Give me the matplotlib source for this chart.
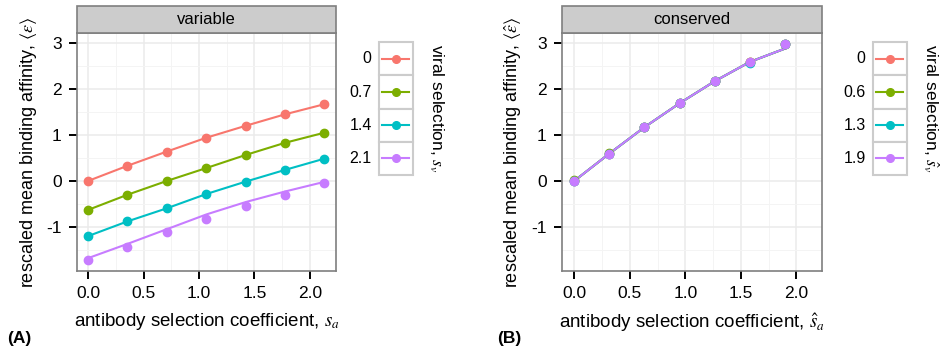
#!/usr/bin/env python3
# -*- coding: utf-8 -*-

import numpy as np
import matplotlib
matplotlib.use("Agg")
import matplotlib.pyplot as plt
from matplotlib.patches import Rectangle
from matplotlib.ticker import MultipleLocator

plt.rcParams["font.family"] = ["Liberation Sans", "DejaVu Sans"]
plt.rcParams["mathtext.fontset"] = "stix"

# ========== 数据 ==========
# (A) variable
sa_var = [0.0, 0.355, 0.71, 1.065, 1.42, 1.775, 2.13]
sv_var_labels = ["0", "0.7", "1.4", "2.1"]
eps_var_pts = [
    [0.00, 0.33, 0.64, 0.94, 1.20, 1.45, 1.67],
    [-0.63, -0.30, 0.00, 0.28, 0.565, 0.83, 1.05],
    [-1.20, -0.88, -0.595, -0.285, -0.015, 0.24, 0.485],
    [-1.72, -1.43, -1.115, -0.82, -0.545, -0.295, -0.055],
]
eps_var_line = [
    [0.00, 0.33, 0.64, 0.94, 1.20, 1.45, 1.67],
    [-0.63, -0.30, 0.00, 0.28, 0.565, 0.83, 1.05],
    [-1.20, -0.88, -0.595, -0.285, -0.015, 0.24, 0.485],
    [-1.68, -1.37, -1.05, -0.73, -0.46, -0.23, -0.02],
]

# (B) conserved
sa_con = [0.0, 0.316, 0.632, 0.948, 1.264, 1.58, 1.896]
sv_con_labels = ["0", "0.6", "1.3", "1.9"]
eps_con_pts = [
    [0.00, 0.595, 1.17, 1.69, 2.17, 2.59, 2.97],
    [0.01, 0.60, 1.175, 1.695, 2.175, 2.595, 2.975],
    [0.00, 0.59, 1.17, 1.69, 2.165, 2.575, 2.985],
    [-0.01, 0.595, 1.17, 1.69, 2.17, 2.59, 2.97],
]
eps_con_line = [
    [0.00, 0.595, 1.17, 1.69, 2.17, 2.59, 2.88],
    [0.00, 0.595, 1.17, 1.69, 2.17, 2.59, 2.88],
    [0.00, 0.595, 1.17, 1.69, 2.17, 2.59, 2.88],
    [0.00, 0.595, 1.17, 1.69, 2.17, 2.59, 2.88],
]

COLORS = ["#F8766D", "#7CAE00", "#00BFC4", "#C77CFF"]
W, H = 943, 349


def fx(px):
    return px / W


def fy(py):
    return 1 - py / H


def style_panel(ax, strip_text, xlim, ylabel, xlabel):
    ax.set_xlim(*xlim)
    ax.set_ylim(-1.96, 3.22)
    ax.xaxis.set_major_locator(MultipleLocator(0.5))
    ax.xaxis.set_minor_locator(MultipleLocator(0.25))
    ax.yaxis.set_major_locator(MultipleLocator(1))
    ax.yaxis.set_minor_locator(MultipleLocator(0.5))
    ax.set_xticks([0.0, 0.5, 1.0, 1.5, 2.0])
    ax.set_xticklabels(["0.0", "0.5", "1.0", "1.5", "2.0"])
    ax.set_yticks([-1, 0, 1, 2, 3])
    ax.set_yticklabels(["-1", "0", "1", "2", "3"])
    ax.grid(which="major", color="#EBEBEB", lw=1.1, zorder=0)
    ax.grid(which="minor", color="#F4F4F4", lw=0.7, zorder=0)
    ax.set_axisbelow(True)
    ax.tick_params(which="major", direction="out", length=6, width=1.4,
                   color="black", labelsize=12.5, pad=5)
    ax.tick_params(which="minor", length=0)
    for sp in ax.spines.values():
        sp.set_color("#7F7F7F")
        sp.set_linewidth(1.2)
    ax.set_ylabel(ylabel, fontsize=13, labelpad=5)
    ax.set_xlabel(xlabel, fontsize=13.5, labelpad=7)
    # 面板顶部条带
    strip = Rectangle((0, 1), 1, 27 / 238, transform=ax.transAxes,
                      facecolor="#CCCCCC", edgecolor="#7F7F7F", lw=1.2,
                      clip_on=False, zorder=5)
    ax.add_patch(strip)
    ax.text(0.5, 1 + 13.5 / 238, strip_text, transform=ax.transAxes,
            ha="center", va="center", fontsize=12, zorder=6)


def draw_legend(fig, x0, labels, title):
    lax = fig.add_axes([fx(x0), fy(175), fx(34), (175 - 42.3) / H])
    lax.set_xlim(0, 1)
    lax.set_ylim(len(labels), 0)
    lax.axis("off")
    for i, (lab, c) in enumerate(zip(labels, COLORS)):
        lax.add_patch(Rectangle((0, i), 1, 1, facecolor="white",
                                edgecolor="#CCCCCC", lw=1.5, clip_on=False))
        lax.plot([0.1, 0.9], [i + 0.5, i + 0.5], color=c, lw=1.5)
        lax.plot([0.5], [i + 0.5], "o", color=c, ms=5.5)
        lax.text(-0.2, i + 0.5, lab, ha="right", va="center", fontsize=11.5)
    fig.text(fx(x0 + 58), fy(44), title, rotation=-90, ha="center", va="top",
             fontsize=12.5)


fig = plt.figure(figsize=(W / 100, H / 100), dpi=100)

axA = fig.add_axes([fx(77), fy(271), fx(336 - 77), (271 - 33) / H])
axB = fig.add_axes([fx(562), fy(271), fx(822 - 562), (271 - 33) / H])

for pts, line, c in zip(eps_var_pts, eps_var_line, COLORS):
    axA.plot(sa_var, line, color=c, lw=1.5, zorder=3)
    axA.plot(sa_var, pts, "o", color=c, ms=6, zorder=4)

for pts, line, c in zip(eps_con_pts, eps_con_line, COLORS):
    axB.plot(sa_con, line, color=c, lw=1.5, zorder=3)
    axB.plot(sa_con, pts, "o", color=c, ms=6, zorder=4)

style_panel(axA, "variable", (-0.10, 2.235),
            r"rescaled mean binding affinity, $\langle\varepsilon\rangle$",
            r"antibody selection coefficient, $s_a$")
style_panel(axB, "conserved", (-0.11, 2.23),
            r"rescaled mean binding affinity, $\langle\hat{\varepsilon}\rangle$",
            r"antibody selection coefficient, $\hat{s}_a$")

draw_legend(fig, 378.5, sv_var_labels, r"viral selection, $s_v$")
draw_legend(fig, 872.5, sv_con_labels, r"viral selection, $\hat{s}_v$")

fig.text(fx(7), fy(338), "(A)", fontsize=12.5, fontweight="bold", va="center")
fig.text(fx(497), fy(338), "(B)", fontsize=12.5, fontweight="bold", va="center")

fig.savefig("out.png", dpi=100)
